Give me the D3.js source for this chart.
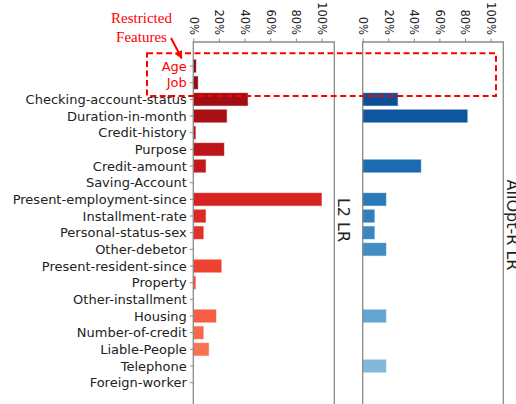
<!DOCTYPE html>
<html>
<head>
<meta charset="utf-8">
<script src="https://cdn.jsdelivr.net/npm/d3@7"></script>
<style>
  html, body { margin: 0; padding: 0; background: #fff; }
  svg { display: block; }
</style>
</head>
<body>
<svg id="chart" width="516" height="404"></svg>
<script>
// Feature names (German credit data), top to bottom
const features = [
  "Age", "Job", "Checking-account-status", "Duration-in-month", "Credit-history",
  "Purpose", "Credit-amount", "Saving-Account", "Present-employment-since",
  "Installment-rate", "Personal-status-sex", "Other-debetor", "Present-resident-since",
  "Property", "Other-installment", "Housing", "Number-of-credit", "Liable-People",
  "Telephone", "Foreign-worker"
];
const restricted = ["Age", "Job"];

// Feature importance (%) for each model
const l2Values = [2, 3.5, 42.4, 26, 1.6, 23.9, 9.6, 0, 100, 9.6, 7.8, 0, 21.8, 1.6, 0, 17.7, 7.8, 12, 0, 0];
const allOptValues = [0, 0, 27.3, 81.8, 0, 0, 45.5, 0, 18.2, 9.1, 9.1, 18.2, 0, 0, 0, 18.2, 0, 0, 18.2, 0];

const tickValues = [0, 20, 40, 60, 80, 100];
const panelTitles = ["L2 LR", "AllOpt-R LR"];

const svg = d3.select("#chart");
const axisColor = "#8a8a8a";
const frameTop = 42, frameBottom = 406;

const y = d3.scaleBand()
  .domain(features)
  .range([57.7, 391])
  .paddingInner(0.25)
  .paddingOuter(0.125);

const redColor = i => d3.interpolateReds(0.935 - i * 0.027);
const blueColor = i => d3.interpolateBlues(0.935 - i * 0.027);

const panels = [
  { x0: 193.3, x1: 334.3, values: l2Values, color: redColor, title: panelTitles[0], titleX: 343.3, titleY: 220, yLabels: true },
  { x0: 362.7, x1: 503.3, values: allOptValues, color: blueColor, title: panelTitles[1], titleX: 512.3, titleY: 225, yLabels: false }
];

panels.forEach(p => {
  const x = d3.scaleLinear().domain([0, 110]).range([p.x0, p.x1]);
  const g = svg.append("g");

  // bars
  g.selectAll("rect.bar")
    .data(features)
    .join("rect")
    .attr("class", "bar")
    .attr("x", x(0))
    .attr("y", d => y(d))
    .attr("width", (d, i) => x(p.values[i]) - x(0))
    .attr("height", y.bandwidth())
    .attr("fill", (d, i) => p.color(i))
    .attr("stroke", (d, i) => p.color(i))
    .attr("stroke-opacity", 0.45)
    .attr("stroke-width", 1);

  // frame: left, top, right spines
  g.append("path")
    .attr("d", `M${p.x0},${frameBottom}V${frameTop}H${p.x1}V${frameBottom}`)
    .attr("fill", "none")
    .attr("stroke", axisColor)
    .attr("stroke-width", 1.3);

  // top percentage axis
  const xAxis = d3.axisTop(x)
    .tickValues(tickValues)
    .tickFormat(d => d + "%")
    .tickSize(3.5)
    .tickPadding(4);
  const ax = g.append("g").attr("transform", `translate(0,${frameTop})`).call(xAxis);
  ax.select(".domain").remove();
  ax.selectAll(".tick line").attr("stroke", axisColor).attr("stroke-width", 1);
  ax.selectAll(".tick text")
    .attr("font-family", "DejaVu Sans")
    .attr("font-size", 11.5)
    .attr("fill", "#222")
    .attr("x", 0)
    .attr("y", 0)
    .attr("dy", null)
    .attr("text-anchor", "end")
    .attr("dominant-baseline", "central")
    .attr("transform", "translate(0,-7) rotate(90)");

  if (p.yLabels) {
    const yAxis = d3.axisLeft(y).tickSize(3.5).tickPadding(3);
    const ay = g.append("g").attr("transform", `translate(${p.x0},0)`).call(yAxis);
    ay.select(".domain").remove();
    ay.selectAll(".tick line").attr("stroke", axisColor).attr("stroke-width", 1);
    ay.selectAll(".tick text")
      .attr("font-family", "DejaVu Sans")
      .attr("font-size", 13)
      .attr("dy", null)
      .attr("dominant-baseline", "central")
      .attr("fill", d => restricted.includes(d) ? "#ff0000" : "#222");
  }

  // panel title on the right side
  g.append("text")
    .attr("transform", `translate(${p.titleX},${p.titleY}) rotate(90)`)
    .attr("text-anchor", "middle")
    .attr("dominant-baseline", "central")
    .attr("font-family", "DejaVu Sans")
    .attr("font-size", 16)
    .attr("fill", "#222")
    .text(p.title);
});

// dashed box around the restricted features
const boxTop = y("Age") - 6.5;
const boxBottom = y("Job") + y.bandwidth() + 7;
svg.append("rect")
  .attr("x", 147)
  .attr("y", boxTop)
  .attr("width", 496 - 147)
  .attr("height", boxBottom - boxTop)
  .attr("fill", "none")
  .attr("stroke", "#ff0000")
  .attr("stroke-width", 2)
  .attr("stroke-dasharray", "6,3.5");

// annotation text and arrow
const note = svg.append("text")
  .attr("text-anchor", "middle")
  .attr("font-family", "Liberation Serif")
  .attr("font-size", 15)
  .attr("fill", "#ff0000");
note.append("tspan").attr("x", 141.5).attr("y", 23).text("Restricted");
note.append("tspan").attr("x", 141.5).attr("y", 42).text("Features");

svg.append("defs").append("marker")
  .attr("id", "arrowhead")
  .attr("viewBox", "0 0 10 10")
  .attr("refX", 9).attr("refY", 5)
  .attr("markerWidth", 4).attr("markerHeight", 4)
  .attr("orient", "auto")
  .append("path")
  .attr("d", "M0,0L10,5L0,10Z")
  .attr("fill", "#ff0000");

svg.append("line")
  .attr("x1", 171).attr("y1", 38)
  .attr("x2", 181.7).attr("y2", 58.3)
  .attr("stroke", "#ff0000")
  .attr("stroke-width", 2)
  .attr("marker-end", "url(#arrowhead)");
</script>
</body>
</html>
